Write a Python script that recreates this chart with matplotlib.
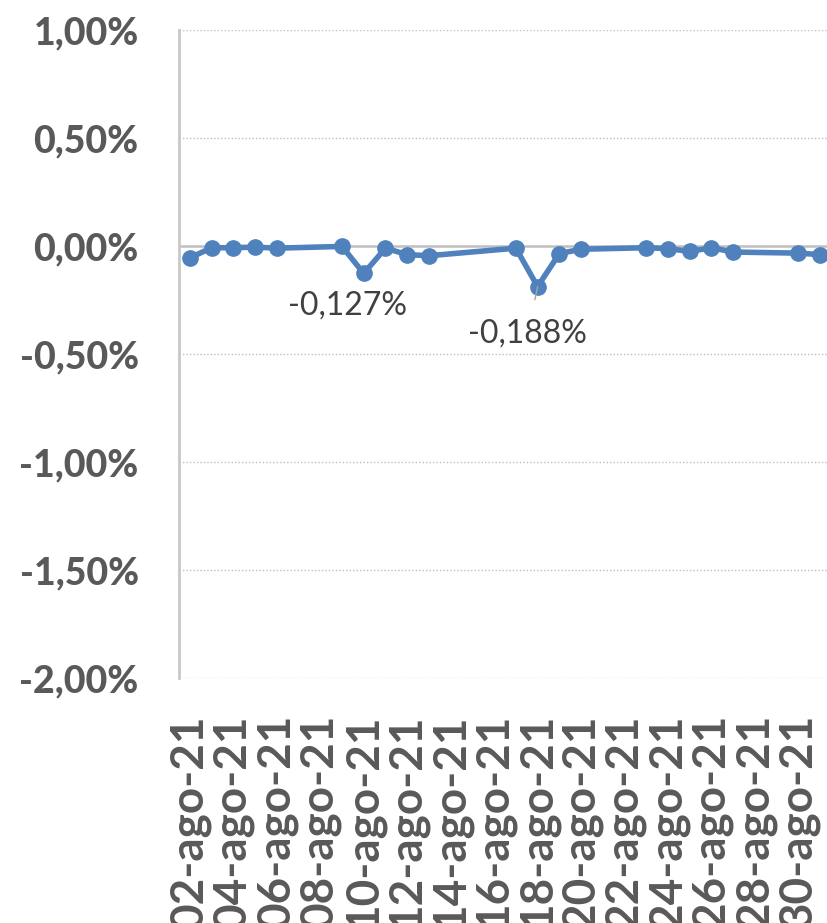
import datetime as dt

import matplotlib
matplotlib.use("Agg")
import matplotlib.pyplot as plt
import matplotlib.dates as mdates
from matplotlib.ticker import FixedLocator, FuncFormatter

# daily variation, % (trading days of August 2021)
dates = [dt.date(2021, 8, d) for d in
         [2, 3, 4, 5, 6, 9, 10, 11, 12, 13, 17, 18, 19, 20, 23, 24, 25, 26, 27, 30, 31]]
values = [-0.055, -0.008, -0.008, -0.005, -0.010, -0.002, -0.127, -0.010, -0.040, -0.045,
          -0.010, -0.188, -0.035, -0.015, -0.008, -0.012, -0.025, -0.008, -0.028, -0.033, -0.040]

tick_dates = [dt.date(2021, 8, d) for d in range(2, 31, 2)]
tick_labels = [f"{d.day:02d}-ago-21" for d in tick_dates]
y_ticks = [1.0, 0.5, 0.0, -0.5, -1.0, -1.5, -2.0]

# labelled points: (index, text)
labelled = [(6, "-0,127%"), (11, "-0,188%")]

LINE = "#4F81BD"
GREY = "#595959"
GRID = "#BFBFBF"

plt.rcParams["font.family"] = ["Lato", "DejaVu Sans"]

fig = plt.figure(figsize=(8.27, 9.23), dpi=100)
ax = fig.add_axes([179 / 827, 1 - 678 / 923, 652 / 827, 648 / 923])

xs = mdates.date2num(dates)
ax.plot(xs, values, color=LINE, lw=4, marker="o", ms=11,
        solid_joinstyle="round", solid_capstyle="round", zorder=3)

ax.set_ylim(-2.0, 1.0)
ax.set_xlim(mdates.date2num(dt.date(2021, 8, 2)) - 0.5,
            mdates.date2num(dt.date(2021, 8, 31)) + 0.5)

ax.yaxis.set_major_locator(FixedLocator(y_ticks))
ax.yaxis.set_major_formatter(FuncFormatter(lambda v, p: f"{v:.2f}%".replace(".", ",")))
ax.set_xticks(mdates.date2num(tick_dates))
ax.set_xticklabels(tick_labels, rotation=90, va="top", ha="center")

for lab in ax.get_yticklabels():
    lab.set_fontweight("black")
for lab in ax.get_xticklabels():
    lab.set_fontweight("bold")

ax.tick_params(axis="y", length=0, pad=29, labelsize=27, labelcolor=GREY)
ax.tick_params(axis="x", length=0, pad=26, labelsize=33, labelcolor=GREY)

# dotted gridlines, solid zero line
for yv in y_ticks:
    if yv != 0:
        ax.axhline(yv, color=GRID, lw=1.0, ls=(0, (1, 1.5)), zorder=1)
ax.axhline(0, color=GRID, lw=1.8, zorder=2)

for s in ["top", "right", "bottom"]:
    ax.spines[s].set_visible(False)
ax.spines["left"].set_color("#C8C8C8")
ax.spines["left"].set_linewidth(2)

# data labels
ax.annotate(labelled[0][1], (xs[labelled[0][0]], values[labelled[0][0]]),
            xytext=(-11.5, -23), textcoords="offset points",
            ha="center", va="center", fontsize=23, color="#404040")
ax.annotate(labelled[1][1], (xs[labelled[1][0]], values[labelled[1][0]]),
            xytext=(-7, -34), textcoords="offset points",
            ha="center", va="center", fontsize=23, color="#404040",
            arrowprops=dict(arrowstyle="-", color="#A6A6A6", lw=1,
                            shrinkA=12, shrinkB=0))

fig.savefig("out.png", dpi=100)
